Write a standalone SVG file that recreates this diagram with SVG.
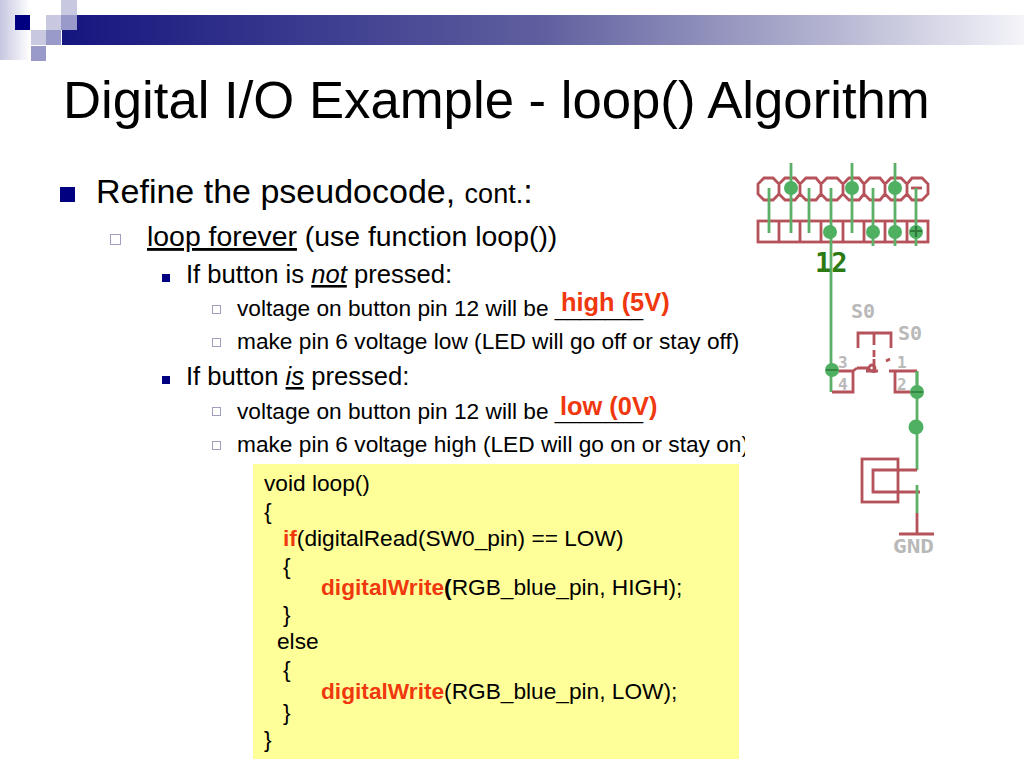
<svg xmlns="http://www.w3.org/2000/svg" width="1024" height="768" viewBox="0 0 1024 768">
<defs>
<linearGradient id="bar" x1="0" x2="1" y1="0" y2="0"><stop offset="0" stop-color="#15157f"/><stop offset="0.5" stop-color="#5f5f9f"/><stop offset="0.8" stop-color="#b5b5d2"/><stop offset="1" stop-color="#f4f4f9"/></linearGradient>
<linearGradient id="side" x1="0" x2="1" y1="0" y2="0"><stop offset="0" stop-color="#c6c6e0"/><stop offset="1" stop-color="#ffffff"/></linearGradient>
</defs>
<style>
text{font-family:"Liberation Sans",Arial,sans-serif;fill:#000}
.t{font-size:52.700px}
.l1{font-size:34px}
.l2{font-size:28.400px}
.l3{font-size:25.600px}
.l4{font-size:22.700px}
.c{font-size:22.700px}
.o{fill:#f0380f;font-weight:bold}
.r{font-size:25.400px}
.w{fill:none;stroke:#b5525a;stroke-width:2.800}
.g{fill:none;stroke:#5cb068;stroke-width:2.800}
.d{fill:#4fb062}
.n{font-family:"DejaVu Sans Mono","Liberation Mono",monospace;fill:#b9b9b9;font-weight:bold}
</style>
<rect width="1024" height="768" fill="#fff"/>
<g id="header">
<rect x="0" y="0" width="30" height="60" fill="url(#side)"/>
<rect x="62" y="15" width="962" height="30" fill="url(#bar)"/>
<rect x="15" y="15" width="15" height="15" fill="#000080"/>
<rect x="46" y="15" width="15" height="15" fill="#c8c8e0"/>
<rect x="61" y="0" width="16" height="15" fill="#c8c8e0"/>
<rect x="61" y="15" width="16" height="15" fill="#9a9aca"/>
<rect x="31" y="30" width="15" height="15" fill="#c8c8e0"/>
<rect x="46" y="30" width="15" height="15" fill="#9a9aca"/>
<rect x="31" y="46" width="15" height="15" fill="#9a9aca"/>
</g>
<text id="title" class="t" x="63" y="118">Digital I/O Example - loop() Algorithm</text>
<g id="bullets">
<rect x="60" y="187" width="15" height="15" fill="#000080"/>
<text class="l1" x="96" y="203">Refine the pseudocode, <tspan font-size="27px">cont.</tspan>:</text>
<rect x="110.500" y="234.500" width="10" height="10" fill="none" stroke="#a0a0c0"/>
<text class="l2" x="147" y="246"><tspan text-decoration="underline">loop forever</tspan> (use function loop())</text>
<rect x="162" y="274" width="8" height="8" fill="#000080"/>
<text class="l3" x="186" y="283">If button is <tspan font-style="italic" text-decoration="underline">not</tspan> pressed:</text>
<rect x="212.500" y="305.500" width="8" height="8" fill="none" stroke="#a0a0c0"/>
<text class="l4" x="237" y="316">voltage on button pin 12 will be _______</text>
<rect x="212.500" y="338.500" width="8" height="8" fill="none" stroke="#a0a0c0"/>
<text class="l4" x="237" y="349">make pin 6 voltage low (LED will go off or stay off)</text>
<rect x="162" y="376" width="8" height="8" fill="#000080"/>
<text class="l3" x="186" y="385">If button <tspan font-style="italic" text-decoration="underline">is</tspan> pressed:</text>
<rect x="212.500" y="407.500" width="8" height="8" fill="none" stroke="#a0a0c0"/>
<text class="l4" x="237" y="419">voltage on button pin 12 will be _______</text>
<rect x="212.500" y="441.500" width="8" height="8" fill="none" stroke="#a0a0c0"/>
<text class="l4" x="237" y="452">make pin 6 voltage high (LED will go on or stay on)</text>
</g>
<rect x="745" y="432" width="16" height="30" fill="#fff"/>
<text id="high" class="r o" x="561" y="311">high (5V)</text>
<text id="low" class="r o" x="560" y="415">low (0V)</text>
<g id="code">
<rect x="253" y="464" width="486" height="295" fill="#ffff99"/>
<text class="c" x="264" y="491">void loop()</text>
<text class="c" x="264" y="519">{</text>
<text class="c" x="283" y="546"><tspan class="o">if</tspan>(digitalRead(SW0_pin) == LOW)</text>
<text class="c" x="283" y="574">{</text>
<text class="c" x="321" y="595"><tspan class="o">digitalWrite</tspan><tspan font-weight="bold">(</tspan>RGB_blue_pin, HIGH);</text>
<text class="c" x="283" y="622">}</text>
<text class="c" x="277" y="649">else</text>
<text class="c" x="283" y="677">{</text>
<text class="c" x="321" y="699"><tspan class="o">digitalWrite</tspan>(RGB_blue_pin, LOW);</text>
<text class="c" x="283" y="720">}</text>
<text class="c" x="264" y="747">}</text>
</g>
<g id="schematic">
<g id="header-pins">
<rect x="758" y="221" width="170" height="21" class="w"/>
<path class="w" d="M779 221V242M800 221V242M821 221V242M843 221V242M864 221V242M885 221V242M907 221V242"/>
<path class="w" d="M764 178H773L779 184V194L773 200H764L758 194V184ZM785 178H795L800 184V194L795 200H785L779 194V184ZM806 178H816L821 184V194L816 200H806L800 194V184ZM827 178H837L843 184V194L837 200H827L821 194V184ZM849 178H859L864 184V194L859 200H849L843 194V184ZM870 178H880L885 184V194L880 200H870L864 194V184ZM891 178H901L907 184V194L901 200H891L885 194V184ZM912 178H922L928 184V194L922 200H912L907 194V184Z"/>
<path class="w" d="M911 188H922"/>
</g>
<g id="wires">
<path class="g" d="M769 188V233M791 163V233M809 188V233M831 188V392"/>
<path class="g" d="M852 163V233M873 188V246M895 163V246M916 188V246"/>
<path class="g" d="M917 371V470"/>
<circle class="d" cx="791" cy="188" r="7"/>
<circle class="d" cx="852" cy="188" r="7"/>
<circle class="d" cx="895" cy="188" r="7"/>
<circle class="d" cx="830" cy="232" r="7"/>
<circle class="d" cx="873" cy="232" r="7"/>
<circle class="d" cx="895" cy="232" r="7"/>
<circle class="d" cx="916" cy="232" r="7"/>
<path d="M910 231H922M916 226V237" fill="none" stroke="#2f7a3a" stroke-width="2.200"/>
</g>
<text id="pin12" x="815" y="272" font-size="27" font-weight="bold" style="font-family:'DejaVu Sans Mono',monospace;fill:#2c7a12">12</text>
<text class="n" x="851" y="318" font-size="20">S0</text>
<text class="n" x="898" y="340" font-size="20">S0</text>
<g id="switch">
<path class="w" d="M858 348V333H891V348M874 333V345M874 350V357"/>
<path class="w" d="M832 371H853V392H832M853 371L857 368M857 368H870M886 361L890 359M866 371H878M874 359V373"/>
<circle class="w" cx="872" cy="368" r="3"/>
<path class="w" d="M889 371H917M895 371V392H917"/>
<path class="g" d="M917 371V392"/>
<circle class="d" cx="832" cy="370" r="7"/>
<circle class="d" cx="917" cy="392" r="7"/>
<circle class="d" cx="916" cy="427" r="7.500"/>
<path d="M826 370H838M911 392H923" fill="none" stroke="#2f7a3a" stroke-width="1.500"/>
<text class="n" x="838" y="368" font-size="16">3</text>
<text class="n" x="897" y="368" font-size="16">1</text>
<text class="n" x="838" y="390" font-size="16">4</text>
<text class="n" x="897" y="390" font-size="16">2</text>
</g>
<g id="led">
<rect x="862" y="459" width="36" height="43" class="w"/>
<path class="w" d="M917 470H873V492H920"/>
<path class="g" d="M917 485V513"/>
<path class="w" d="M917 513V535M899 534H934"/>
<text class="n" x="893" y="553" font-size="20" textLength="41" lengthAdjust="spacingAndGlyphs">GND</text>
</g>
</g>
</svg>
